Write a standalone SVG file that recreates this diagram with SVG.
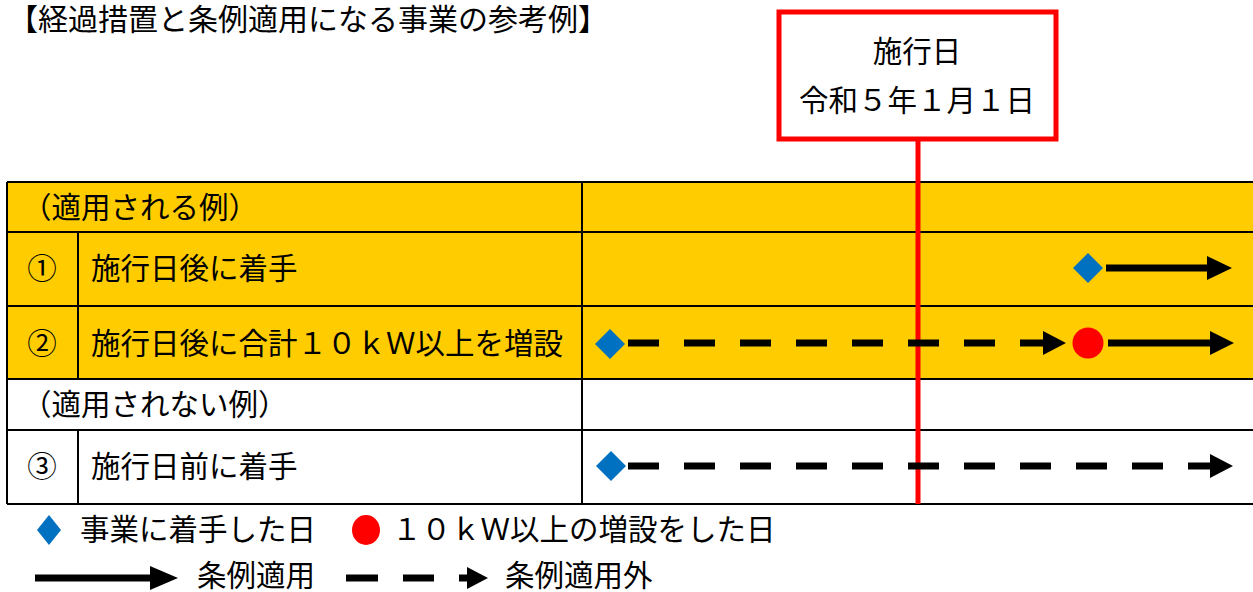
<svg xmlns="http://www.w3.org/2000/svg" width="1253" height="592" viewBox="0 0 1253 592">
<style>
text{font-family:"Noto Sans CJK JP","Noto Sans",sans-serif;fill:#000;}
.t{font-size:29.5px;}
.c{font-size:29.5px;text-anchor:middle;}
.grid{stroke:#000;stroke-width:2;fill:none;}
.dash{stroke:#000;stroke-width:7;stroke-dasharray:31 25;fill:none;}
.solid{stroke:#000;stroke-width:7;fill:none;}
.head{fill:#000;}
.dia{fill:#0070C0;}
.dot{fill:#FF0000;}
</style>
<rect width="1253" height="592" fill="#fff"/>
<text x="8" y="30" style="font-size:30px">【経過措置と条例適用になる事業の参考例】</text>

<g id="table">
<rect x="7" y="182" width="1260" height="197" fill="#FFCC00"/>
<rect x="7" y="379" width="1260" height="125" fill="#fff"/>
<path class="grid" d="M7,182H1260M7,232H1260M7,306H1260M7,379H1260M7,430H1260M7,504H1260M7,182V504M582,182V504M78,232V379M78,430V504"/>
<text class="t" x="22" y="218">（適用される例）</text>
<text class="c" x="42" y="279">①</text>
<text class="t" x="91" y="279">施行日後に着手</text>
<text class="c" x="42" y="354">②</text>
<text class="t" x="91" y="354">施行日後に合計１０ｋＷ以上を増設</text>
<text class="t" x="22" y="415">（適用されない例）</text>
<text class="c" x="42" y="477">③</text>
<text class="t" x="91" y="477">施行日前に着手</text>
</g>

<g id="sekoubi">
<line x1="918" y1="140" x2="918" y2="504" stroke="#FF0000" stroke-width="5"/>
<rect x="779" y="12" width="277" height="127" fill="#fff" stroke="#FF0000" stroke-width="5"/>
<text class="c" x="917" y="62">施行日</text>
<text class="c" x="917" y="111">令和５年１月１日</text>
</g>

<g id="connectors">
<line class="solid" x1="1106" y1="268" x2="1209" y2="268"/>
<polygon class="head" points="1207,256 1232,268 1207,280"/>
<line class="dash" x1="628" y1="343" x2="1045" y2="343"/>
<polygon class="head" points="1043,331 1066,343 1043,355"/>
<line class="solid" x1="1108" y1="343" x2="1212" y2="343"/>
<polygon class="head" points="1210,331 1234,343 1210,355"/>
<line class="dash" x1="628" y1="466" x2="1212" y2="466"/>
<polygon class="head" points="1210,454 1233,466 1210,478"/>
</g>

<g id="markers">
<polygon class="dia" points="1088,253 1103,268 1088,283 1073,268"/>
<polygon class="dia" points="610,329 625,344 610,359 595,344"/>
<circle class="dot" cx="1088" cy="343" r="15.5"/>
<polygon class="dia" points="611,451 626,466 611,481 596,466"/>
</g>

<g id="legend">
<polygon class="dia" points="49,515 61,530 49,545 37,530"/>
<text class="t" x="80" y="540">事業に着手した日</text>
<ellipse class="dot" cx="366" cy="530" rx="14" ry="15"/>
<text class="t" x="392" y="540">１０ｋＷ以上の増設をした日</text>
<line class="solid" x1="35" y1="578" x2="152" y2="578"/>
<polygon class="head" points="150,566 178,578 150,590"/>
<text class="t" x="197" y="586">条例適用</text>
<line x1="346" y1="578" x2="434" y2="578" stroke="#000" stroke-width="7" stroke-dasharray="32 25"/>
<line x1="459" y1="578" x2="469" y2="578" stroke="#000" stroke-width="7"/>
<polygon class="head" points="467,567 488,578 467,589"/>
<text class="t" x="505" y="586">条例適用外</text>
</g>
</svg>
